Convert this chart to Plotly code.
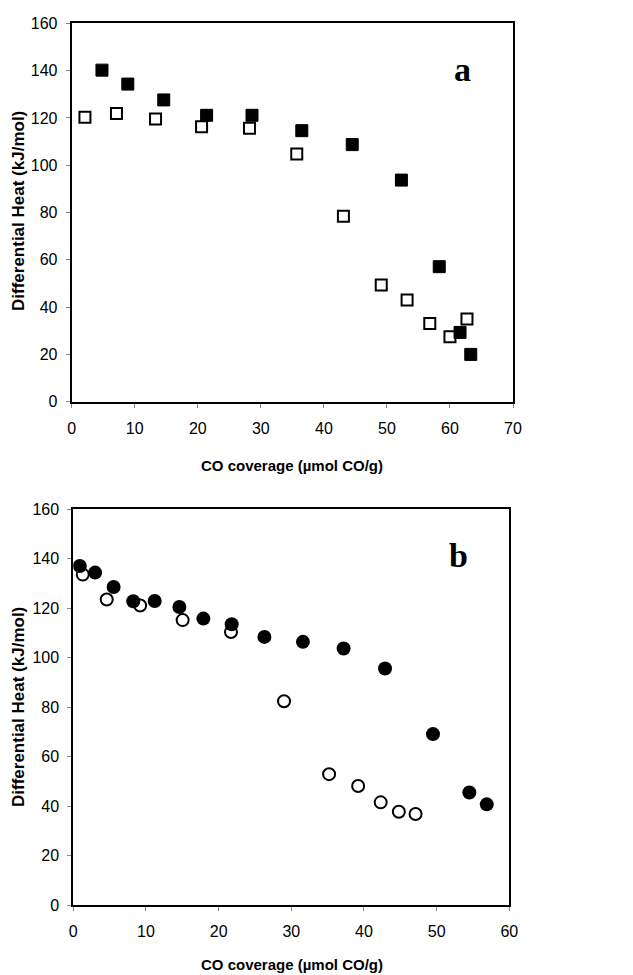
import plotly.graph_objects as go

# Panel a (squares)
a_filled_x = [4.8, 8.9, 14.6, 21.4, 28.6, 36.5, 44.5, 52.3, 58.3, 61.6, 63.3]
a_filled_y = [140.2, 134.3, 127.6, 121.1, 121.1, 114.6, 108.7, 93.7, 57.1, 29.3, 20.0]
a_open_x = [2.1, 7.1, 13.3, 20.6, 28.2, 35.7, 43.1, 49.1, 53.2, 56.8, 60.0, 62.7]
a_open_y = [120.3, 121.9, 119.5, 116.3, 115.6, 104.7, 78.4, 49.3, 43.0, 33.1, 27.5, 35.0]

# Panel b (circles)
b_filled_x = [0.9, 3.0, 5.55, 8.25, 11.2, 14.6, 17.9, 21.8, 26.3, 31.6, 37.2, 42.9, 49.5, 54.5, 56.9]
b_filled_y = [137.1, 134.4, 128.6, 122.8, 122.9, 120.5, 115.8, 113.5, 108.4, 106.4, 103.7, 95.6, 69.1, 45.5, 40.7]
b_open_x = [1.3, 4.6, 9.2, 15.05, 21.7, 29.0, 35.2, 39.2, 42.3, 44.8, 47.1]
b_open_y = [133.6, 123.5, 121.1, 115.2, 110.4, 82.4, 52.9, 48.1, 41.5, 37.7, 36.8]

y_ticks = [0, 20, 40, 60, 80, 100, 120, 140, 160]
a_x_ticks = [0, 10, 20, 30, 40, 50, 60, 70]
b_x_ticks = [0, 10, 20, 30, 40, 50, 60]

x_title = "CO coverage (µmol CO/g)"
y_title = "Differential Heat (kJ/mol)"

# page body has an 8px default margin; compensate
W, H, OFF = 625, 967, 8


def px(x):
    return (x - OFF) / W


def py(y):
    return 1 - (y - OFF) / H


fig = go.Figure()

fig.add_trace(go.Scatter(x=a_open_x, y=a_open_y, mode="markers", xaxis="x", yaxis="y",
                         marker=dict(symbol="square", size=11, color="white",
                                     line=dict(color="black", width=2))))
fig.add_trace(go.Scatter(x=a_filled_x, y=a_filled_y, mode="markers", xaxis="x", yaxis="y",
                         marker=dict(symbol="square", size=12, color="black",
                                     line=dict(color="black", width=1))))
fig.add_trace(go.Scatter(x=b_open_x, y=b_open_y, mode="markers", xaxis="x2", yaxis="y2",
                         marker=dict(symbol="circle", size=12, color="white",
                                     line=dict(color="black", width=2))))
fig.add_trace(go.Scatter(x=b_filled_x, y=b_filled_y, mode="markers", xaxis="x2", yaxis="y2",
                         marker=dict(symbol="circle", size=14, color="black",
                                     line=dict(color="black", width=0))))

tickfont = dict(family="Liberation Sans, Arial", size=16, color="black")
xtitlefont = dict(family="Liberation Sans, Arial", size=15, color="black")
ytitlefont = dict(family="Liberation Sans, Arial", size=17, color="black")

common_axis = dict(showgrid=False, zeroline=False, showline=True, linecolor="black",
                   linewidth=2, mirror=True, ticks="outside", ticklen=4,
                   tickcolor="#888888", tickwidth=1, tickfont=tickfont, automargin=False)

fig.update_layout(
    width=W, height=H,
    margin=dict(l=0, r=0, t=0, b=0),
    paper_bgcolor="white", plot_bgcolor="white",
    showlegend=False,
    xaxis=dict(domain=[px(71.7), px(513)], range=[0, 70], tickvals=a_x_ticks,
               anchor="y", ticklabelstandoff=7, **common_axis),
    yaxis=dict(domain=[py(401.7), py(23.3)], range=[0, 160], tickvals=y_ticks,
               anchor="x", ticklabelstandoff=5, **common_axis),
    xaxis2=dict(domain=[px(73.3), px(509.3)], range=[0, 60], tickvals=b_x_ticks,
                anchor="y2", ticklabelstandoff=7, **common_axis),
    yaxis2=dict(domain=[py(905), py(509.3)], range=[0, 160], tickvals=y_ticks,
                anchor="x2", ticklabelstandoff=5, **common_axis),
)

ann = []
ann.append(dict(text="<b>" + x_title + "</b>", x=px(292), y=py(466), xref="paper", yref="paper",
                showarrow=False, font=xtitlefont, xanchor="center", yanchor="middle"))
ann.append(dict(text="<b>" + x_title + "</b>", x=px(292), y=py(964), xref="paper", yref="paper",
                showarrow=False, font=xtitlefont, xanchor="center", yanchor="middle"))
ann.append(dict(text="<b>" + y_title + "</b>", x=px(18), y=py(211), xref="paper", yref="paper",
                showarrow=False, font=ytitlefont, textangle=-90, xanchor="center", yanchor="middle"))
ann.append(dict(text="<b>" + y_title + "</b>", x=px(18), y=py(707), xref="paper", yref="paper",
                showarrow=False, font=ytitlefont, textangle=-90, xanchor="center", yanchor="middle"))
ann.append(dict(text="<b>a</b>", x=px(462), y=py(70), xref="paper", yref="paper",
                showarrow=False, font=dict(family="Liberation Serif, Times New Roman", size=34, color="black"),
                xanchor="center", yanchor="middle"))
ann.append(dict(text="<b>b</b>", x=px(458), y=py(555), xref="paper", yref="paper",
                showarrow=False, font=dict(family="Liberation Serif, Times New Roman", size=34, color="black"),
                xanchor="center", yanchor="middle"))
fig.update_layout(annotations=ann)

fig.write_html("out.html")
